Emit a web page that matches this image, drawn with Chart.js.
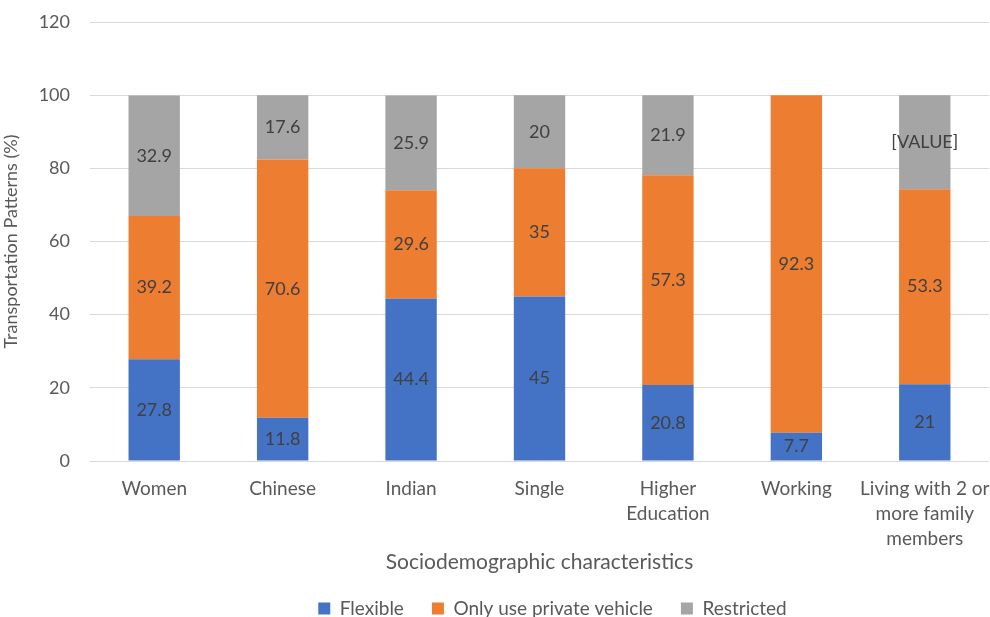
<!DOCTYPE html>
<html>
<head>
<meta charset="utf-8">
<script src="https://cdn.jsdelivr.net/npm/chart.js@4"></script>
<style>
  html, body { margin: 0; padding: 0; background: #fff; }
  #wrap { width: 990px; height: 617px; }
</style>
</head>
<body>
<div id="wrap"><canvas id="myChart"></canvas></div>
<script>
var categories = ['Women', 'Chinese', 'Indian', 'Single', ['Higher', 'Education'], 'Working', ['Living with 2 or', 'more family', 'members']];
var flexible = [27.8, 11.8, 44.4, 45, 20.8, 7.7, 21];
var privateVehicle = [39.2, 70.6, 29.6, 35, 57.3, 92.3, 53.3];
var restricted = [32.9, 17.6, 25.9, 20, 21.9, 0, 25.7];
var restrictedLabels = ['32.9', '17.6', '25.9', '20', '21.9', '', '[VALUE]'];
var yTicks = [0, 20, 40, 60, 80, 100, 120];

var fontFamily = 'Lato, "Open Sans", sans-serif';
var textGrey = '#595959';

// dibuja los valores en el centro de cada segmento
var barLabels = {
    id: 'barLabels',
    afterDatasetsDraw: function (chart) {
        var ctx = chart.ctx;
        ctx.save();
        ctx.font = '18px ' + fontFamily;
        ctx.fillStyle = '#404040';
        ctx.textAlign = 'center';
        ctx.textBaseline = 'middle';
        chart.data.datasets.forEach(function (ds, di) {
            var meta = chart.getDatasetMeta(di);
            meta.data.forEach(function (bar, i) {
                var txt = ds.labelsText ? ds.labelsText[i] : String(ds.data[i]);
                if (!txt || ds.data[i] === 0) return;
                var y = (bar.y + bar.base) / 2;
                ctx.fillText(txt, bar.x, y);
            });
        });
        ctx.restore();
    }
};

// la leyenda va un poco a la derecha, centrada como en el original
var legendShift = {
    id: 'legendShift',
    afterLayout: function (chart) {
        if (chart.legend) {
            chart.legend.left += 58;
            chart.legend.right += 58;
        }
    }
};

var ctx = document.getElementById('myChart').getContext('2d');
new Chart(ctx, {
    type: 'bar',
    data: {
        labels: categories,
        datasets: [
            { label: 'Flexible', data: flexible, backgroundColor: '#4472C4' },
            { label: 'Only use private vehicle', data: privateVehicle, backgroundColor: '#ED7D31' },
            { label: 'Restricted', data: restricted, backgroundColor: '#A5A5A5', labelsText: restrictedLabels }
        ]
    },
    options: {
        responsive: true,
        maintainAspectRatio: false,
        animation: false,
        layout: { padding: { top: 22, right: 1, left: 0, bottom: -11 } },
        datasets: { bar: { barPercentage: 0.4, categoryPercentage: 1.0 } },
        scales: {
            x: {
                stacked: true,
                grid: { display: false, drawTicks: false },
                border: { display: false },
                ticks: {
                    color: textGrey,
                    font: { size: 19, family: fontFamily, lineHeight: 1.32 },
                    padding: 15,
                    maxRotation: 0,
                    autoSkip: false
                },
                title: {
                    display: true,
                    text: 'Sociodemographic characteristics',
                    color: textGrey,
                    font: { size: 21, family: fontFamily },
                    padding: { top: 0, bottom: -4 }
                },
                afterFit: function (axis) {
                    axis.height = 110;
                    axis.paddingLeft = 0;
                    axis.paddingRight = 0;
                }
            },
            y: {
                stacked: true,
                min: 0,
                max: 120,
                afterBuildTicks: function (axis) {
                    axis.ticks = yTicks.map(function (v) { return { value: v }; });
                },
                afterFit: function (axis) {
                    axis.width = 90;
                    axis.paddingTop = 0;
                    axis.paddingBottom = 0;
                },
                grid: { color: '#D9D9D9', lineWidth: 1, drawTicks: false },
                border: { display: false },
                ticks: {
                    color: textGrey,
                    font: { size: 18, family: fontFamily },
                    padding: 20
                },
                title: {
                    display: true,
                    text: 'Transportation Patterns (%)',
                    color: textGrey,
                    font: { size: 18, family: fontFamily },
                    padding: { top: 0, bottom: 0 }
                }
            }
        },
        plugins: {
            legend: {
                position: 'bottom',
                labels: {
                    color: textGrey,
                    font: { size: 19, family: fontFamily },
                    usePointStyle: true,
                    pointStyle: 'rect',
                    boxWidth: 12,
                    boxHeight: 12,
                    padding: 28
                }
            },
            tooltip: { enabled: false }
        }
    },
    plugins: [barLabels, legendShift]
});
</script>
</body>
</html>
